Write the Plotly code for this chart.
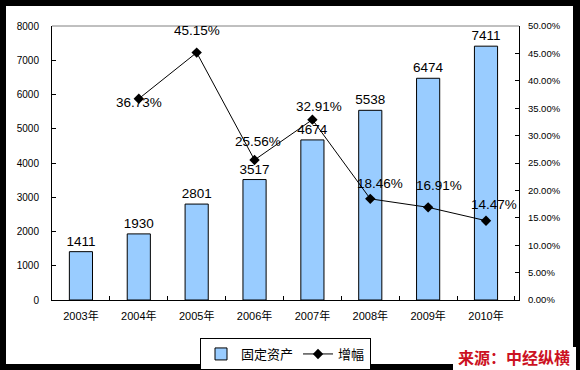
import plotly.graph_objects as go

years = ["2003年", "2004年", "2005年", "2006年", "2007年", "2008年", "2009年", "2010年"]
assets = [1411, 1930, 2801, 3517, 4674, 5538, 6474, 7411]
growth_years = ["2004年", "2005年", "2006年", "2007年", "2008年", "2009年", "2010年"]
growth = [0.3673, 0.4515, 0.2556, 0.3291, 0.1846, 0.1691, 0.1447]
growth_labels = ["36.73%", "45.15%", "25.56%", "32.91%", "18.46%", "16.91%", "14.47%"]

# label offsets (style only)
lbl_dx = [0, 0, 3, 7, 10, 11, 8]
lbl_dy = [-4, 22, 18, 13, 15, 22, 16]

FONT = "Liberation Sans, Arial, Noto Sans CJK SC"

fig = go.Figure()
fig.add_trace(go.Bar(
    x=years, y=assets, name="固定资产",
    marker=dict(color="#99CCFF", line=dict(color="black", width=1)),
    text=[str(v) for v in assets], textposition="outside",
    textfont=dict(family=FONT, size=13.5, color="black"),
    constraintext="none",
    cliponaxis=False,
))
fig.add_trace(go.Scatter(
    x=growth_years, y=growth, name="增幅", yaxis="y2",
    mode="lines+markers",
    line=dict(color="black", width=1),
    marker=dict(symbol="diamond", size=8, color="black"),
))

annotations = []
for xv, yv, t, dx, dy in zip(growth_years, growth, growth_labels, lbl_dx, lbl_dy):
    annotations.append(dict(
        x=xv, y=yv, xref="x", yref="y2", text=t, showarrow=False,
        xshift=dx, yshift=dy,
        font=dict(family=FONT, size=13.5, color="black"),
    ))

W, H = 580, 370
L, R, T, B = 52, 61, 26, 70
pw, ph = W - L - R, H - T - B

def px(x):
    return (x - L) / pw

def py(y):
    return (H - B - y) / ph

annotations.append(dict(
    x=px(514), y=py(357), xref="paper", yref="paper",
    text="<b>来源：中经纵横</b>", showarrow=False,
    xanchor="center", yanchor="middle",
    font=dict(family="Noto Sans CJK SC", size=16, color="#CC1122"),
))

shapes = [
    dict(type="rect", xref="paper", yref="paper", layer="below",
         x0=px(6), x1=px(573), y0=py(364), y1=py(6),
         fillcolor="white", line=dict(width=0)),
    dict(type="rect", xref="paper", yref="paper", layer="below",
         x0=px(453), x1=px(576), y0=py(371), y1=py(347),
         fillcolor="white", line=dict(width=0)),
    dict(type="line", xref="paper", yref="paper",
         x0=0, x1=1, y0=1, y1=1, line=dict(color="#808080", width=1)),
]

fig.update_layout(
    width=W, height=H, autosize=False,
    margin=dict(l=L, r=R, t=T, b=B, pad=0, autoexpand=False),
    paper_bgcolor="black", plot_bgcolor="white",
    font=dict(family=FONT, color="black"),
    showlegend=True,
    bargap=0.6,
    legend=dict(
        orientation="h", x=px(200), y=py(338), xanchor="left", yanchor="top",
        bgcolor="white", bordercolor="black", borderwidth=1,
        font=dict(family=FONT, size=13, color="black"),
    ),
    xaxis=dict(
        type="category", showline=True, linecolor="black", linewidth=1,
        ticks="inside", ticklen=4, tickcolor="black", tickson="boundaries",
        tickfont=dict(family=FONT, size=11, color="black"),
        ticklabelstandoff=6, showgrid=False, zeroline=False,
    ),
    yaxis=dict(
        range=[0, 8000], dtick=1000, showline=True, linecolor="black", linewidth=1,
        ticks="inside", ticklen=4, tickcolor="black",
        tickfont=dict(family=FONT, size=10, color="black"),
        ticklabelstandoff=10, showgrid=False, zeroline=False,
    ),
    yaxis2=dict(
        range=[0, 0.5], dtick=0.05, tickformat=".2%", overlaying="y", side="right",
        showline=True, linecolor="black", linewidth=1,
        ticks="inside", ticklen=4, tickcolor="black",
        tickfont=dict(family=FONT, size=9.5, color="black"),
        ticklabelstandoff=6, showgrid=False, zeroline=False,
    ),
    annotations=annotations,
    shapes=shapes,
)

fig.write_html(
    "out.html",
    config={"displayModeBar": False},
    post_script="document.body.style.margin='0';document.body.style.overflow='hidden';",
)
